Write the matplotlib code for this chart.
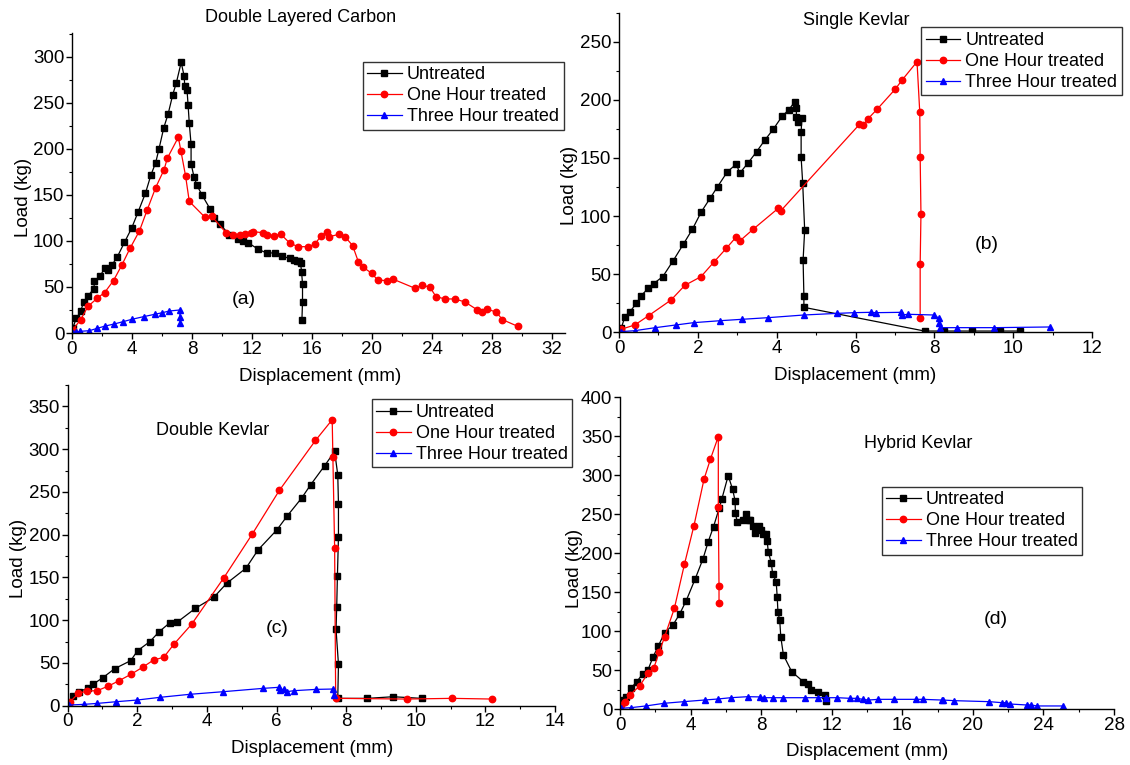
import numpy as np
import matplotlib
matplotlib.use('Agg')
import matplotlib.pyplot as plt
from matplotlib.ticker import MultipleLocator

plt.rcParams['font.family'] = ['Liberation Sans', 'DejaVu Sans']

labels = ['Untreated', 'One Hour treated', 'Three Hour treated']

# (a) Double Layered Carbon
a_untr_x = [0.05, 0.29, 0.58, 0.78, 1.07, 1.46, 1.5, 1.87, 2.18, 2.43, 2.67, 3.03, 3.5, 3.98, 4.42, 4.9,
            5.27, 5.58, 5.8, 6.12, 6.41, 6.72, 6.96, 7.28, 7.48, 7.52, 7.67, 7.74, 7.82, 7.94, 7.94, 8.13,
            8.33, 8.67, 9.2, 9.49, 9.9, 10.49, 11.09, 11.42, 11.75, 12.42, 13.02, 13.53, 13.98, 14.53,
            14.8, 14.98, 15.16, 15.24, 15.31, 15.37, 15.37, 15.33]
a_untr_y = [5.4, 16, 23.5, 34, 40.5, 48, 56, 61.6, 70.6, 68, 74, 83, 98.5, 114, 132, 152,
            172, 185, 200, 223, 238, 259, 272, 294, 279, 268, 264, 248, 228, 205, 184, 170,
            160.5, 150, 135, 125, 118, 106.5, 101.8, 100, 98, 91, 86.6, 87.3, 83.3, 81.2,
            79.3, 78.6, 78.3, 76, 66, 53.3, 34, 14.1]
a_one_x = [0.05, 0.58, 1.07, 1.7, 2.18, 2.77, 3.33, 3.87, 4.5, 5.02, 5.58, 6.14, 6.36, 7.09, 7.26, 7.57,
           7.82, 8.87, 9.31, 10.27, 10.76, 11.2, 11.53, 11.93, 12.09, 12.76, 13.02, 13.47, 13.93, 14.53,
           15.09, 15.76, 16.2, 16.6, 16.98, 17.16, 17.8, 18.2, 18.71, 19.09, 19.42, 19.98, 20.38, 20.98,
           21.38, 22.87, 23.36, 23.87, 24.27, 24.87, 25.53, 26.2, 27.0, 27.35, 27.7, 28.3, 28.7, 29.73]
a_one_y = [3.6, 14.5, 29, 38, 44, 57, 74, 92, 111, 134, 158, 177.5, 190, 212.7, 198, 171,
           143, 125.7, 127, 109, 106.5, 106.5, 107.2, 109, 110, 109, 106, 105.8, 107.2, 97.5,
           93.8, 93.8, 96.7, 105.4, 110, 104.7, 107.2, 104.7, 95, 77.5, 71.4, 64.9, 57.6, 56.9,
           58.7, 48.6, 52.2, 49.6, 39.5, 37, 37, 33.7, 25.4, 22.8, 26, 22.5, 14.5, 7.2]
a_three_x = [0.05, 0.3, 0.53, 1.15, 1.67, 2.22, 2.82, 3.4, 4.0, 4.78, 5.51, 6.0, 6.49, 7.18, 7.2, 7.2]
a_three_y = [0.5, 1, 1.8, 2.5, 5, 7.6, 9.8, 12.3, 14.9, 17.8, 20.3, 22, 23.9, 25, 17.8, 11.3]

# (b) Single Kevlar
b_untr_x = [0.055, 0.15, 0.28, 0.44, 0.56, 0.74, 0.88, 1.11, 1.37, 1.63, 1.86, 2.09, 2.32, 2.5, 2.75,
            2.98, 3.06, 3.28, 3.49, 3.7, 3.91, 4.14, 4.3, 4.46, 4.5, 4.5, 4.55, 4.64, 4.62, 4.62, 4.66,
            4.71, 4.67, 4.69, 4.69, 7.75, 8.24, 8.96, 9.66, 10.17]
b_untr_y = [3.4, 13.5, 17.8, 25, 31.5, 37.8, 42, 47.9, 61.4, 75.7, 88.6, 103.8, 115.8, 125.3, 138.2,
            144.8, 136.8, 146, 155.4, 165.4, 174.6, 186, 191.2, 198.4, 192.7, 185.5, 181.2, 184.6, 172.6,
            150.5, 128.2, 88, 62.2, 31.5, 21.5, 1.1, 1.1, 1.1, 1.1, 1.1]
b_one_x = [0.05, 0.4, 0.75, 1.32, 1.67, 2.08, 2.4, 2.72, 2.98, 3.07, 3.4, 4.04, 4.1, 6.1, 6.2, 6.31,
           6.55, 7.01, 7.18, 7.56, 7.63, 7.64, 7.66, 7.64, 7.64]
b_one_y = [2.6, 6.3, 14.3, 27.8, 40.4, 47.9, 60.2, 72.2, 82.3, 78.8, 88.6, 106.7, 104.4, 178.9, 178.3,
           183.5, 192, 209.3, 217, 232.8, 189.2, 150.5, 101.9, 58.7, 12.4]
b_three_x = [0.055, 0.4, 0.92, 1.44, 1.89, 2.57, 3.12, 3.78, 4.69, 5.54, 5.96, 6.38, 6.51, 7.15, 7.18,
             7.34, 7.99, 8.12, 8.12, 8.15, 8.57, 9.51, 10.94]
b_three_y = [0.6, 1.4, 4, 6.3, 8.3, 10, 11.2, 12.6, 14.9, 16.3, 16.9, 17.2, 16.9, 17.2, 14.9,
             15.5, 14.9, 12, 8.3, 4, 4, 4, 4.6]

# (c) Double Kevlar
c_untr_x = [0.04, 0.16, 0.32, 0.57, 0.74, 1.01, 1.35, 1.81, 2.01, 2.36, 2.63, 2.94, 3.14, 3.67, 4.2,
            4.57, 5.12, 5.47, 6.01, 6.31, 6.72, 6.98, 7.38, 7.67, 7.76, 7.78, 7.78, 7.75, 7.73, 7.71,
            7.78, 7.76, 8.61, 9.35, 10.17]
c_untr_y = [2, 11.3, 16.4, 20.3, 25.4, 32.8, 43.3, 52.7, 64.4, 74.9, 86.6, 97.2, 97.5, 113.9, 126.8,
            143.2, 160.7, 182.2, 205.6, 222, 242.7, 258.3, 280.5, 297.3, 270, 235.7, 197.8, 151.8, 115.9,
            89.4, 48.4, 8.6, 8.6, 10.5, 8.6]
c_one_x = [0.07, 0.31, 0.55, 0.85, 1.17, 1.46, 1.83, 2.15, 2.47, 2.76, 3.05, 3.56, 4.49, 5.3, 6.08,
           7.12, 7.6, 7.62, 7.67, 7.7, 9.75, 11.04, 12.19]
c_one_y = [4.7, 14.4, 17.2, 17.6, 23, 28.9, 37, 44.9, 53.5, 56.6, 71.8, 95.2, 149.8, 200.5, 251.7,
           310.2, 334.4, 290.3, 184.2, 8.6, 7.8, 8.6, 7.8]
c_three_x = [0.05, 0.47, 0.85, 1.4, 1.99, 2.65, 3.5, 4.47, 5.62, 6.06, 6.11, 6.22, 6.29, 6.51, 7.14,
             7.62, 7.64]
c_three_y = [0.8, 1.6, 2.7, 4.7, 6.6, 9.8, 13.3, 16.4, 20.3, 21.5, 18.3, 19.5, 16.4, 17.6, 19.1,
             19.5, 12.5]

# (d) Hybrid Kevlar
d_untr_x = [0.06, 0.16, 0.34, 0.61, 0.95, 1.28, 1.58, 1.88, 2.17, 2.53, 3.0, 3.38, 3.75, 4.25, 4.7,
            5.0, 5.3, 5.63, 5.77, 6.13, 6.38, 6.52, 6.54, 6.64, 6.99, 7.15, 7.29, 7.39, 7.55, 7.63,
            7.79, 7.9, 8.0, 8.1, 8.26, 8.34, 8.4, 8.57, 8.65, 8.85, 8.91, 8.95, 9.05, 9.11, 9.26,
            9.73, 10.39, 10.67, 10.81, 11.21, 11.62, 11.68]
d_untr_y = [7.3, 11.6, 15.8, 26.5, 35.1, 44.9, 50, 67.2, 80.9, 98, 107.8, 121.9, 139, 166.4, 192.5,
            214.8, 234, 258.4, 269.5, 299.5, 281.9, 267.4, 251.1, 240.4, 242.6, 250.3, 242.6, 242.6,
            235.3, 226.3, 232.7, 235.3, 229.7, 224.6, 224.6, 216, 201.9, 187.8, 173.3, 163.4, 143.3,
            124.1, 114.2, 92.8, 69.3, 47.9, 35, 32, 24.4, 21.8, 18, 10.7]
d_one_x = [0.06, 0.3, 0.55, 1.11, 1.58, 1.92, 2.23, 2.53, 3.08, 3.65, 4.19, 4.76, 5.12, 5.57, 5.57,
           5.61, 5.61]
d_one_y = [5.1, 9.4, 18, 29.5, 45.8, 53, 73.6, 92.8, 129.2, 185.7, 235.3, 294.8, 320.4, 349.5, 258.8,
           157.9, 135.6]
d_three_x = [0.06, 0.61, 1.46, 2.49, 3.6, 4.82, 5.53, 6.28, 7.23, 7.94, 8.16, 8.66, 9.26, 10.49, 11.24,
             11.68, 12.32, 13.04, 13.42, 13.76, 14.08, 14.64, 15.53, 16.78, 17.16, 18.24, 18.3, 18.95,
             20.94, 21.64, 21.88, 22.11, 23.09, 23.28, 23.66, 25.13]
d_three_y = [0.9, 1.7, 3.9, 7.3, 9.4, 11.6, 12.8, 14.5, 15.8, 15.5, 14.5, 14.5, 14.5, 14.5, 14.5,
             14.5, 14.5, 13.7, 13.7, 12.4, 11.5, 12.4, 12.4, 12.4, 12.4, 11.5, 11.5, 10.7,
             9.4, 8.1, 8.1, 6.4, 5.1, 5.1, 3.9, 3.9]


def panel(fig, rect, series, xlim, ylim, xmaj, title, title_xy, tag, tag_xy, leg_xy, ylab_xy, xlab_xy):
    ax = fig.add_axes(rect)
    styles = [('black', 's', 4.0), ('red', 'o', 4.6), ('blue', '^', 5.0)]
    for (x, y), lab, (c, m, ms) in zip(series, labels, styles):
        ax.plot(x, y, color=c, marker=m, ms=ms, lw=0.9, label=lab)
    ax.set_xlim(*xlim)
    ax.set_ylim(*ylim)
    ax.xaxis.set_major_locator(MultipleLocator(xmaj))
    ax.xaxis.set_minor_locator(MultipleLocator(xmaj / 2))
    ax.yaxis.set_major_locator(MultipleLocator(50))
    ax.yaxis.set_minor_locator(MultipleLocator(25))
    for s in ['top', 'right']:
        ax.spines[s].set_visible(False)
    for s in ['left', 'bottom']:
        ax.spines[s].set_linewidth(1.0)
    ax.tick_params(which='major', direction='out', length=4, width=1, labelsize=13.5, pad=1.5)
    ax.tick_params(which='minor', direction='out', length=2.5, width=0.8)
    ax.set_xlabel('Displacement (mm)', fontsize=13.5)
    ax.set_ylabel('Load (kg)', fontsize=13.5)
    ax.xaxis.set_label_coords(*xlab_xy)
    ax.yaxis.set_label_coords(*ylab_xy)
    ax.text(title_xy[0], title_xy[1], title, transform=ax.transAxes, ha='center', va='center', fontsize=13)
    ax.text(tag_xy[0], tag_xy[1], tag, transform=ax.transAxes, ha='center', va='center', fontsize=14)
    leg = ax.legend(loc='upper right', bbox_to_anchor=leg_xy, borderaxespad=0, fontsize=13,
                    frameon=True, fancybox=False, handlelength=1.9, handletextpad=0.3,
                    labelspacing=0.22, borderpad=0.25)
    leg.get_frame().set_edgecolor('black')
    leg.get_frame().set_linewidth(1.0)
    return ax


fig = plt.figure(figsize=(11.3, 7.65), dpi=100)

panel(fig, [0.0637, 0.5647, 0.4363, 0.3922],
      [(a_untr_x, a_untr_y), (a_one_x, a_one_y), (a_three_x, a_three_y)],
      (0, 32.87), (0, 326), 4, 'Double Layered Carbon', (0.464, 1.052), '(a)', (0.349, 0.113),
      (0.997, 0.904), (-0.082, 0.453), (0.503, -0.117))

panel(fig, [0.5478, 0.5656, 0.4186, 0.4178],
      [(b_untr_x, b_untr_y), (b_one_x, b_one_y), (b_three_x, b_three_y)],
      (0, 12), (0, 275), 2, 'Single Kevlar', (0.501, 0.977), '(b)', (0.778, 0.276),
      (1.063, 0.954), (-0.087, 0.46), (0.5, -0.109))

panel(fig, [0.0599, 0.0775, 0.4312, 0.4192],
      [(c_untr_x, c_untr_y), (c_one_x, c_one_y), (c_three_x, c_three_y)],
      (0, 14), (0, 375), 2, 'Double Kevlar', (0.2976, 0.857), '(c)', (0.43, 0.242),
      (1.036, 0.955), (-0.0845, 0.46), (0.501, -0.107))

panel(fig, [0.5487, 0.0732, 0.4372, 0.4075],
      [(d_untr_x, d_untr_y), (d_one_x, d_one_y), (d_three_x, d_three_y)],
      (0, 28), (0, 400), 4, 'Hybrid Kevlar', (0.603, 0.853), '(d)', (0.761, 0.286),
      (0.936, 0.713), (-0.075, 0.452), (0.501, -0.109))

plt.savefig('out.png', dpi=100)
